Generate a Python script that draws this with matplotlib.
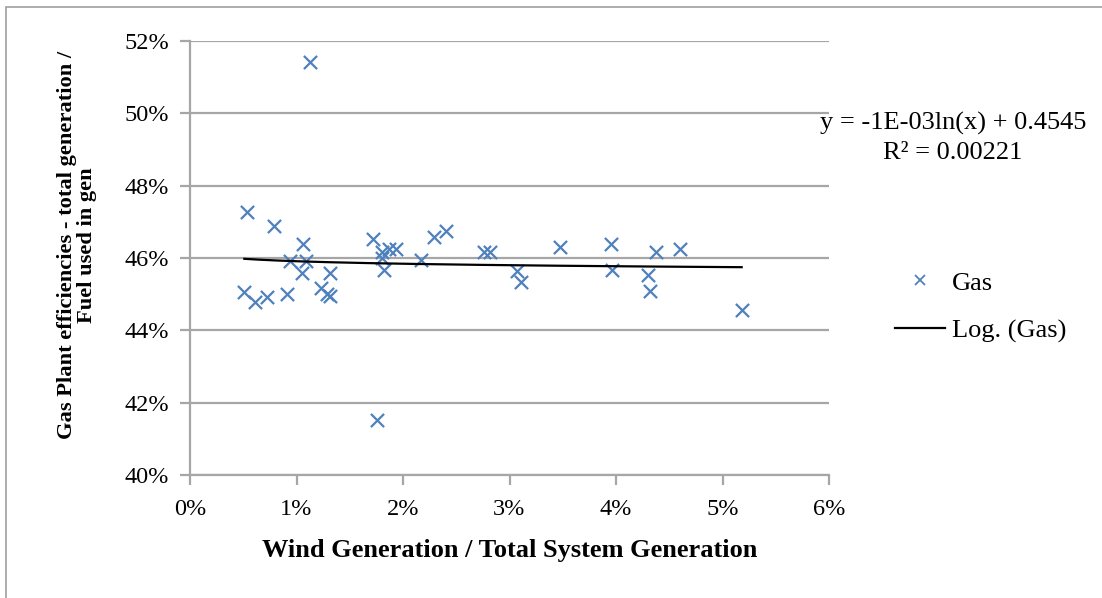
import numpy as np
import matplotlib
matplotlib.use("Agg")
import matplotlib.pyplot as plt
from matplotlib.ticker import PercentFormatter, MultipleLocator
from matplotlib.lines import Line2D
from matplotlib.patches import Rectangle

plt.rcParams["font.family"] = ["Liberation Serif", "DejaVu Serif"]

# Wind share of total generation (%) and gas plant efficiency (%)
wind_share = [0.51, 0.533, 0.61, 0.727, 0.79, 0.915, 0.94, 1.05, 1.065, 1.09,
              1.128, 1.23, 1.285, 1.316, 1.316, 1.72, 1.755, 1.80, 1.80, 1.817,
              1.864, 1.936, 2.17, 2.29, 2.40, 2.757, 2.82, 3.07, 3.108, 3.47,
              3.957, 3.966, 4.30, 4.323, 4.377, 4.60, 5.18]
gas_eff = [45.07, 47.27, 44.79, 44.93, 46.88, 45.00, 45.91, 45.58, 46.38, 45.91,
           51.41, 45.16, 45.00, 44.95, 45.58, 46.52, 41.53, 46.17, 45.99, 45.66,
           46.26, 46.24, 45.94, 46.57, 46.75, 46.17, 46.17, 45.64, 45.34, 46.31,
           46.38, 45.68, 45.53, 45.09, 46.17, 46.24, 44.56]

# Logarithmic trendline coefficients: y = a*ln(x) + b
trend_a = -1e-03
trend_b = 0.4545
r_squared = "0.00221"

x = np.array(wind_share) / 100.0
y = np.array(gas_eff) / 100.0

W, H = 1102, 598
fig = plt.figure(figsize=(W / 100, H / 100), dpi=100)
ax = fig.add_axes([190 / W, 1 - 475 / H, (829 - 190) / W, (475 - 41) / H])

grid_col = "#a6a6a6"
blue = "#4F81BD"

ax.scatter(x, y, marker="x", s=90, color=blue, linewidths=1.6, zorder=3)

xt = np.linspace(x.min(), x.max(), 300)
ax.plot(xt, trend_a * np.log(xt) + trend_b, color="black", lw=1.6, zorder=4)

ax.set_xlim(0, 0.06)
ax.set_ylim(0.40, 0.52)
ax.xaxis.set_major_locator(MultipleLocator(0.01))
ax.yaxis.set_major_locator(MultipleLocator(0.02))
ax.xaxis.set_major_formatter(PercentFormatter(1.0, decimals=0))
ax.yaxis.set_major_formatter(PercentFormatter(1.0, decimals=0))

ax.grid(axis="y", color=grid_col, lw=1.6, zorder=0)
ax.set_axisbelow(True)
for side in ("top", "right"):
    ax.spines[side].set_visible(False)
for side in ("left", "bottom"):
    ax.spines[side].set_color(grid_col)
    ax.spines[side].set_linewidth(1.6)
ax.tick_params(axis="both", direction="out", length=7, width=1.6,
               color=grid_col, labelsize=17.5, labelcolor="black")
ax.tick_params(axis="y", pad=8)
ax.tick_params(axis="x", pad=10)

fig.text(510 / W, 1 - 550 / H, "Wind Generation / Total System Generation",
         ha="center", va="center", fontsize=19, fontweight="bold")
fig.text(77 / W, 1 - 245 / H,
         "Gas Plant efficiencies - total generation /\nFuel used in gen",
         ha="center", va="center", rotation=90, fontsize=16.2,
         fontweight="bold", multialignment="center", linespacing=1.0)

fig.text(953 / W, 1 - 123 / H, "y = -1E-03ln(x) + 0.4545",
         ha="center", va="center", fontsize=19)
fig.text(953 / W, 1 - 153 / H, "R² = " + r_squared,
         ha="center", va="center", fontsize=19)

handles = [Line2D([], [], ls="none", marker="x", ms=7, mew=1.3, color=blue),
           Line2D([], [], color="black", lw=1.6)]
fig.legend(handles, ["Gas", "Log. (Gas)"], loc="center left",
           bbox_to_anchor=(895 / W, 1 - 307 / H), frameon=False, fontsize=19,
           handlelength=1.9, handletextpad=0.27, labelspacing=0.93,
           borderaxespad=0, borderpad=0)

fig.add_artist(Rectangle((6 / W, -0.05), 1.2, 1.05 - 6.5 / H,
                         transform=fig.transFigure, fill=False,
                         edgecolor="#a0a0a0", lw=1.2))

fig.savefig("out.png", dpi=100)
